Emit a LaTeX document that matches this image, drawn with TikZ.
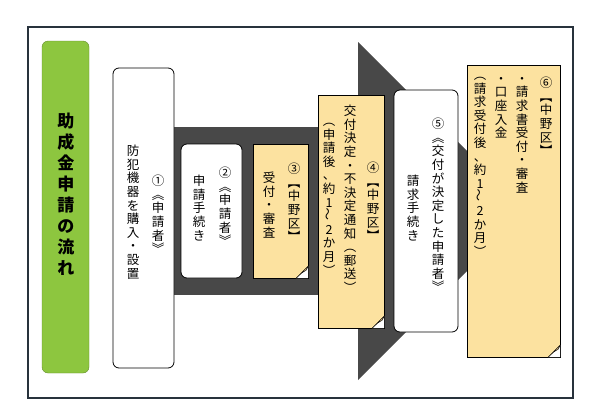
\documentclass[tikz,border=0pt]{standalone}
\usepackage{fontspec}
\setmainfont{Noto Sans CJK JP}
\usetikzlibrary{positioning,calc}
\definecolor{noteColor}{RGB}{252,226,160}
\definecolor{titleColor}{RGB}{141,198,63}
\definecolor{bandColor}{RGB}{72,72,72}
\definecolor{frameColor}{RGB}{40,50,60}
\makeatletter
\newcommand\vcol[2][13.6pt]{\vtop{\baselineskip=#1\lineskiplimit=-20pt
  \@tfor\vc:=#2\do{\hbox to 13pt{\hss\vc\hss}}}}
\makeatother
\newcommand\wave{\rotatebox{90}{～}}
\tikzset{
    x=1pt, y=-1pt,
    whitebox/.style={draw, thick, fill=white, rounded corners=6pt},
    notebox/.style={draw, fill=noteColor},
    fold/.style={draw, fill=noteColor!80!brown},
    col/.style={anchor=north, inner sep=0pt, font=\fontsize{12.5}{13.6}\selectfont}
}
\newcommand\notecorner[1]{%
  \fill[white] ($(#1.south east)+(-12pt,0)$) -- (#1.south east) -- ($(#1.south east)+(0,12pt)$) -- cycle;
  \draw[fill=noteColor] ($(#1.south east)+(-12pt,0)$) -- ($(#1.south east)+(0,12pt)$);
  \draw[fold] ($(#1.south east)+(-12pt,0)$) .. controls ($(#1.south east)+(-7pt,5pt)$) .. ($(#1.south east)+(-2pt,8pt)$)
    -- ($(#1.south east)+(0,12pt)$) -- cycle;}

\begin{document}
\begin{tikzpicture}
    \useasboundingbox (0,0) rectangle (600,418);
    \draw[line width=1.2pt, frameColor] (28,27) rectangle (573,398);
    % title
    \node[fill=titleColor, draw=titleColor!70!black, rounded corners=6pt, minimum width=47pt, minimum height=332pt] (title) at (65.5,207) {};
    \node[col, font=\fontsize{17}{18}\selectfont\bfseries] (titletext) at (66,113) {\vcol[21pt]{助成金申請の流れ}};
    % arrow band
    \fill[bandColor] (174,127) rectangle (358,295);
    \fill[bandColor] (358,42) -- (527,211) -- (358,380) -- cycle;
    % step 1
    \node[whitebox, minimum width=61pt, minimum height=300pt] (one) at (143.5,218) {};
    \node[col] (onea) at (158,175) {\vcol{①︽申請者︾}};
    \node[col] (oneb) at (133,145) {\vcol{防犯機器を購入・設置}};
    % step 2
    \node[whitebox, minimum width=61pt, minimum height=134pt] (two) at (211.5,211) {};
    \node[col] (twoa) at (225,167) {\vcol{②︽申請者︾}};
    \node[col] (twob) at (199,175) {\vcol{申請手続き}};
    % step 3
    \node[notebox, minimum width=55pt, minimum height=134pt] (three) at (280.5,211) {};
    \notecorner{three}
    \node[col] (threea) at (294,163) {\vcol{③︻中野区︼}};
    \node[col] (threeb) at (269,172) {\vcol{受付・審査}};
    % step 4
    \node[notebox, minimum width=66pt, minimum height=233pt] (four) at (351,211.5) {};
    \notecorner{four}
    \node[col] (foura) at (373,162) {\vcol{④︻中野区︼}};
    \node[col] (fourb) at (350,105) {\vcol{交付決定・不決定通知︵郵送︶}};
    \node[col] (fourc) at (329,123) {\vcol{︵申請後、約1{\wave}2か月︶}};
    % step 5
    \node[whitebox, minimum width=64pt, minimum height=242pt] (five) at (426,211) {};
    \node[col] (fivea) at (438,118) {\vcol{⑤︽交付が決定した申請者︾}};
    \node[col] (fiveb) at (413,175) {\vcol{請求手続き}};
    % step 6
    \node[notebox, minimum width=93pt, minimum height=292pt] (six) at (513.5,211) {};
    \notecorner{six}
    \node[col] (sixa) at (546,77) {\vcol{⑥︻中野区︼}};
    \node[col] (sixb) at (522,77) {\vcol{・請求書受付・審査}};
    \node[col] (sixc) at (501,77) {\vcol{・口座入金}};
    \node[col] (sixd) at (480,77) {\vcol{︵請求受付後、約1{\wave}2か月︶}};
\end{tikzpicture}
\end{document}
